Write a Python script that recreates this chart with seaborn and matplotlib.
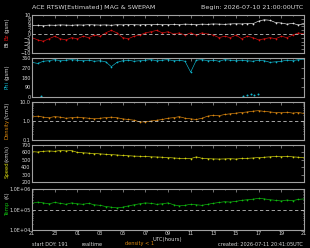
import numpy as np
import pandas as pd
import matplotlib
matplotlib.use('Agg')
import matplotlib.pyplot as plt
import seaborn as sns

# ── data: half-hourly values, hours since 21 UTC ──
hours = np.arange(0, 24.5, 0.5)

bt = [4.5, 4.6, 4.4, 4.7, 4.6, 4.8, 4.7, 4.6, 4.8, 4.7, 4.9, 4.8, 4.7, 4.8, 4.6,
      4.9, 4.8, 5.0, 4.9, 4.8, 5.0, 4.9, 5.1, 5.0, 4.9, 5.1, 5.0, 5.2, 5.1, 5.0,
      5.2, 5.1, 5.3, 5.2, 5.1, 5.3, 5.4, 5.3, 5.5, 5.4, 6.8, 7.5, 7.2, 6.0, 5.8,
      5.2, 5.6, 4.8, 5.3]
bz = [-1.9, -3.1, -3.8, -2.5, -1.2, -2.5, -3.1, -1.9, -2.5, -1.2, -1.9, -0.6,
      -1.2, 0.6, 1.9, 0.6, -1.9, -2.5, -1.2, -0.6, 0.6, 1.2, 1.9, 0.6, 1.2, 0.0,
      0.6, -0.6, 0.6, -0.6, 0.6, 0.0, -0.6, -1.9, -1.2, -1.9, -0.6, -2.5, -1.2,
      -1.9, -3.1, -2.5, -1.9, -2.5, -1.2, -1.9, -0.6, 0.6, 0.0]
phi = [320, 310, 330, 335, 345, 335, 340, 345, 340, 335, 340, 330, 335, 325, 280,
       320, 335, 340, 330, 335, 340, 345, 335, 340, 345, 335, 340, 330, 230, 340,
       345, 335, 340, 330, 345, 340, 335, 340, 335, 330, 340, 335, 320, 325, 330,
       340, 335, 345, 350]
phi_low_hours = [0.8, 18.6, 19.0, 19.3, 19.6, 19.9]
phi_low = [5, 10, 20, 28, 15, 30]
density = [1.7, 1.8, 1.6, 1.5, 1.7, 1.6, 1.4, 1.5, 1.6, 1.5, 1.4, 1.3, 1.4, 1.5,
           1.6, 1.5, 1.3, 1.2, 1.1, 0.9, 0.9, 1.0, 1.1, 1.2, 1.4, 1.5, 1.7, 1.4,
           1.3, 1.2, 1.4, 1.8, 2.0, 1.9, 2.2, 2.4, 2.6, 2.8, 3.0, 3.3, 3.5, 3.2,
           3.0, 2.8, 2.7, 2.9, 2.6, 2.8, 2.5]
speed = [610, 605, 615, 620, 615, 625, 620, 625, 600, 595, 590, 585, 580, 575, 570,
         565, 560, 555, 550, 548, 545, 540, 538, 535, 530, 525, 520, 518, 515, 540,
         520, 515, 512, 510, 512, 515, 510, 518, 520, 525, 530, 535, 540, 545, 542,
         545, 540, 535, 530]
temp = [2.0, 2.3, 2.1, 1.9, 2.2, 2.0, 1.8, 2.1, 1.9, 1.8, 2.0, 1.7, 1.6, 1.4, 1.3,
        1.2, 1.3, 1.5, 1.7, 1.9, 2.1, 2.0, 1.8, 1.9, 2.1, 1.7, 1.5, 1.6, 1.8, 1.7,
        1.6, 1.8, 2.0, 2.2, 2.4, 2.3, 2.5, 2.8, 3.0, 3.2, 3.5, 3.3, 3.0, 2.8, 2.6,
        2.9, 2.7, 3.1, 3.3]
temp = [t * 1e5 for t in temp]

xtick_labels = ['21', '23', '01', '03', '05', '07', '09', '11', '13', '15', '17', '19', '21']

df = pd.DataFrame({'hour': hours, 'bt': bt, 'bz': bz, 'phi': phi,
                   'density': density, 'speed': speed, 'temp': temp})
df_low = pd.DataFrame({'hour': phi_low_hours, 'phi': phi_low})

# ── style ─────────────────────────────────────────────────────────
sns.set_style('dark', {'axes.facecolor': 'black', 'figure.facecolor': 'black'})
plt.rcParams['font.family'] = ['DejaVu Sans']
FG = '#d8d8d8'
FS = 3.5

W, H = 310, 248
fig = plt.figure(figsize=(W / 100, H / 100), dpi=100)
fig.patch.set_facecolor('black')

def make_ax(top, bottom):
    ax = fig.add_axes([32 / W, 1 - bottom / H, 272 / W, (bottom - top) / H])
    ax.set_facecolor('black')
    for s in ax.spines.values():
        s.set_color('#a0a0a0')
        s.set_linewidth(0.8)
    ax.set_xlim(0, 24)
    ax.set_xticks(np.arange(0, 25, 2))
    ax.set_xticks(np.arange(0, 25, 1), minor=True)
    ax.tick_params(which='both', direction='in', colors='#a0a0a0', labelcolor=FG,
                   labelsize=FS, top=True, right=True, length=2, width=0.5, pad=1)
    ax.tick_params(which='minor', length=1)
    ax.set_xticklabels([])
    ax.grid(False)
    return ax

def line(ax, y, color, data=df):
    sns.lineplot(data=data, x='hour', y=y, color=color, lw=0.45, ax=ax, legend=False)
    sns.scatterplot(data=data, x='hour', y=y, color=color, s=1.5, linewidth=0,
                    ax=ax, legend=False)

# Bt / Bz
ax1 = make_ax(15, 53)
line(ax1, 'bt', '#e8e8e8')
line(ax1, 'bz', '#e01010')
ax1.axhline(0, color='#c0c0c0', ls=(0, (4, 3)), lw=0.6)
ax1.set_ylim(-10, 10)
ax1.set_yticks(np.arange(-10, 11, 2))

# Phi
ax2 = make_ax(58, 97)
line(ax2, 'phi', '#10b8d0')
sns.scatterplot(data=df_low, x='hour', y='phi', color='#10b8d0', s=2, linewidth=0,
                ax=ax2, legend=False)
ax2.set_ylim(0, 360)
ax2.set_yticks([0, 90, 180, 270, 360])

# Density
ax3 = make_ax(102, 140)
line(ax3, 'density', '#e08a10')
ax3.axhline(1.0, color='#c0c0c0', ls=(0, (4, 3)), lw=0.6)
ax3.set_yscale('log')
ax3.set_ylim(0.1, 10)
ax3.set_yticks([0.1, 1.0, 10.0])
ax3.set_yticklabels(['0.1', '1.0', '10.0'])

# Speed
ax4 = make_ax(145, 182)
line(ax4, 'speed', '#d8d810')
ax4.set_ylim(200, 700)
ax4.set_yticks([200, 300, 400, 500, 600, 700])

# Temperature
ax5 = make_ax(189, 230)
line(ax5, 'temp', '#10c010')
ax5.axhline(1e5, color='#c0c0c0', ls=(0, (4, 3)), lw=0.6)
ax5.set_yscale('log')
ax5.set_ylim(1e4, 1e6)
ax5.set_yticks([1e4, 1e5, 1e6])
ax5.set_yticklabels(['1.0E+04', '1.0E+05', '1.0E+06'])
ax5.set_xticklabels(xtick_labels)
for ax in (ax1, ax2, ax3, ax4, ax5):
    ax.set_xlabel('')
    ax.set_ylabel('')

for ax in (ax3, ax5):
    ax.tick_params(which='minor', left=True, right=True, length=1)

# ── texts ─────────────────────────────────────────────────────────
def ftext(x, y, s, color=FG, ha='left', rot=0, size=4.2):
    fig.text(x / W, 1 - y / H, s, color=color, ha=ha, va='center',
             rotation=rot, fontsize=size)

ftext(32, 7, 'ACE RTSW[Estimated] MAG & SWEPAM', size=4.6)
ftext(303, 7, 'Begin: 2026-07-10 21:00:00UTC', ha='right', size=4.6)

ylabels = [
    (44, 'Bt', FG), (36.5, 'Bz', '#e01010'), (25, '(gsm)', FG),
    (85, 'Phi', '#10b8d0'), (72, '(gsm)', FG),
    (129, 'Density', '#e08a10'), (110, '(/cm3)', FG),
    (170, 'Speed', '#d8d810'), (153, '(km/s)', FG),
    (208, 'Temp', '#10c010'), (195, '(K)', FG),
]
for y, s, c in ylabels:
    fig.text(7 / W, 1 - y / H, s, color=c, ha='center', va='center',
             rotation=90, fontsize=3.8)

ftext(167, 239, 'UTC(hours)', ha='center', size=3.8)
ftext(32, 244, 'start DOY: 191', size=3.6)
ftext(82, 244, 'realtime', size=3.6)
ftext(140, 244, 'density < 1', color='#e08a10', ha='center', size=3.6)
ftext(303, 244, 'created: 2026-07-11 20:41:05UTC', ha='right', size=3.6)

fig.savefig('out.png', dpi=100, facecolor='black')
